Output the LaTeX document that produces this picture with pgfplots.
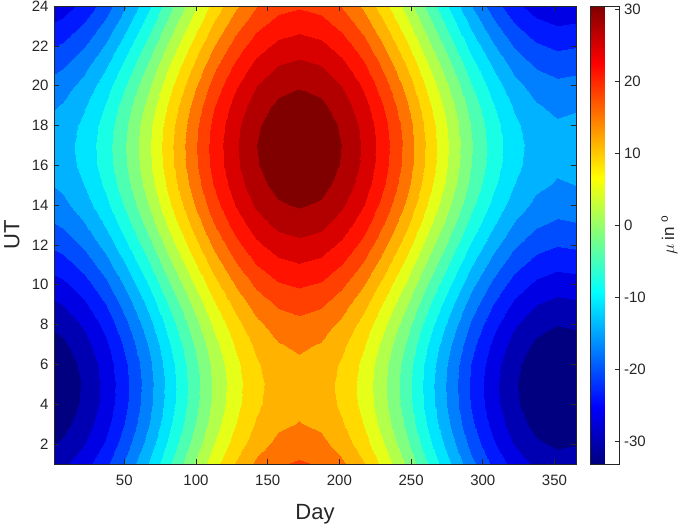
\documentclass[border=0pt]{standalone}
\usepackage{fontspec}
\setmainfont{Liberation Sans}
\usepackage{pgfplots}
\pgfplotsset{compat=1.18}
\pgfkeys{/pgf/number format/assume math mode=true}
\definecolor{axgray}{RGB}{38,38,38}
% 21 filled bands (jet sampled at the contour levels)
\pgfplotsset{colormap={bands}{
  rgb=(0,0,0.5) rgb=(0,0,0.7) rgb=(0,0,0.9) rgb=(0,0.1,1) rgb=(0,0.3,1)
  rgb=(0,0.5,1) rgb=(0,0.7,1) rgb=(0,0.9,1) rgb=(0.1,1,0.9) rgb=(0.3,1,0.7)
  rgb=(0.5,1,0.5) rgb=(0.7,1,0.3) rgb=(0.9,1,0.1) rgb=(1,0.85,0) rgb=(1,0.7,0)
  rgb=(1,0.45,0) rgb=(1,0.25,0) rgb=(1,0.07,0) rgb=(0.85,0,0) rgb=(0.7,0,0)
  rgb=(0.5,0,0)}}
\begin{document}
\begin{tikzpicture}
\useasboundingbox (-54pt,-60pt) rectangle (631pt,464pt);
\begin{axis}[
  scale only axis, width=522pt, height=458pt,
  xmin=1, xmax=365, ymin=1, ymax=24,
  enlargelimits=false,
  xtick={50,100,...,350}, ytick={2,4,...,24},
  tick align=inside, major tick length=5pt,
  xtick pos=both, ytick pos=both,
  xticklabel pos=lower, yticklabel pos=left,
  axis on top,
  axis line style={axgray, line width=0.6pt},
  tick style={axgray, line width=0.6pt},
  tick label style={font=\fontsize{15}{18}\selectfont, text=axgray},
  xticklabel style={yshift=-7pt}, yticklabel style={xshift=-2pt},
  xlabel={Day}, ylabel={UT},
  every axis x label/.style={at={(axis description cs:0.5,-0.122)}, anchor=base,
    font=\fontsize{22}{26}\selectfont, text=axgray},
  every axis y label/.style={at={(axis description cs:-0.0805,0.5)}, rotate=90, anchor=center,
    font=\fontsize{22}{26}\selectfont, text=axgray},
  colormap/jet,
  point meta min=-33.1, point meta max=30.4,
  colorbar,
  colorbar style={
    at={(parent axis.north east)}, anchor=north west, xshift=6pt,
    scale only axis, width=29pt, height=458pt,
    ytick={-30,-20,...,30},
    tick align=inside, major tick length=5pt,
    ytick pos=right, yticklabel pos=right,
    axis line style={axgray, line width=0.6pt},
    tick style={axgray, line width=0.6pt},
    tick label style={font=\fontsize{15}{18}\selectfont, text=axgray},
    yticklabel style={xshift=1pt},
    ylabel={\fontsize{17}{20}\selectfont$\mu$ in \textsuperscript{o}},
    ylabel style={at={(rel axis cs:2.72,0.5)}, anchor=center, text=axgray},
  },
]
\addplot[surf, shader=interp, mesh/cols=26, point meta=explicit,
  colormap name=bands, colormap access=piecewise constant]
table[x=x, y=y, meta=z, row sep=\\] {
x y z\\
1 1 -28.26\\ 7 1 -27.69\\ 22 1 -25.31\\ 37 1 -21.67\\ 52 1 -17.04\\ 67 1 -11.69\\ 82 1 -6.01\\ 97 1 -0.36\\ 112 1 4.88\\ 127 1 9.38\\ 142 1 12.82\\ 157 1 14.98\\ 172 1 15.71\\ 187 1 14.98\\ 202 1 12.82\\ 217 1 9.38\\ 232 1 4.88\\ 247 1 -0.36\\ 262 1 -6.01\\ 277 1 -11.69\\ 292 1 -17.04\\ 307 1 -21.67\\ 322 1 -25.31\\ 337 1 -27.69\\ 352 1 -28.67\\ 365 1 -28.33\\
1 2 -30.16\\ 7 2 -29.59\\ 22 2 -27.21\\ 37 2 -23.57\\ 52 2 -18.94\\ 67 2 -13.59\\ 82 2 -7.91\\ 97 2 -2.26\\ 112 2 2.98\\ 127 2 7.48\\ 142 2 10.92\\ 157 2 13.08\\ 172 2 13.81\\ 187 2 13.08\\ 202 2 10.92\\ 217 2 7.48\\ 232 2 2.98\\ 247 2 -2.26\\ 262 2 -7.91\\ 277 2 -13.59\\ 292 2 -18.94\\ 307 2 -23.57\\ 322 2 -27.21\\ 337 2 -29.59\\ 352 2 -30.57\\ 365 2 -30.23\\
1 3 -31.58\\ 7 3 -31.01\\ 22 3 -28.63\\ 37 3 -24.99\\ 52 3 -20.36\\ 67 3 -15.01\\ 82 3 -9.33\\ 97 3 -3.68\\ 112 3 1.56\\ 127 3 6.06\\ 142 3 9.50\\ 157 3 11.66\\ 172 3 12.39\\ 187 3 11.66\\ 202 3 9.50\\ 217 3 6.06\\ 232 3 1.56\\ 247 3 -3.68\\ 262 3 -9.33\\ 277 3 -15.01\\ 292 3 -20.36\\ 307 3 -24.99\\ 322 3 -28.63\\ 337 3 -31.01\\ 352 3 -31.99\\ 365 3 -31.65\\
1 4 -32.44\\ 7 4 -31.87\\ 22 4 -29.49\\ 37 4 -25.85\\ 52 4 -21.22\\ 67 4 -15.87\\ 82 4 -10.19\\ 97 4 -4.54\\ 112 4 0.70\\ 127 4 5.20\\ 142 4 8.64\\ 157 4 10.80\\ 172 4 11.53\\ 187 4 10.80\\ 202 4 8.64\\ 217 4 5.20\\ 232 4 0.70\\ 247 4 -4.54\\ 262 4 -10.19\\ 277 4 -15.87\\ 292 4 -21.22\\ 307 4 -25.85\\ 322 4 -29.49\\ 337 4 -31.87\\ 352 4 -32.85\\ 365 4 -32.51\\
1 5 -32.66\\ 7 5 -32.09\\ 22 5 -29.71\\ 37 5 -26.07\\ 52 5 -21.44\\ 67 5 -16.09\\ 82 5 -10.41\\ 97 5 -4.76\\ 112 5 0.48\\ 127 5 4.98\\ 142 5 8.42\\ 157 5 10.58\\ 172 5 11.31\\ 187 5 10.58\\ 202 5 8.42\\ 217 5 4.98\\ 232 5 0.48\\ 247 5 -4.76\\ 262 5 -10.41\\ 277 5 -16.09\\ 292 5 -21.44\\ 307 5 -26.07\\ 322 5 -29.71\\ 337 5 -32.09\\ 352 5 -33.07\\ 365 5 -32.73\\
1 6 -32.24\\ 7 6 -31.67\\ 22 6 -29.29\\ 37 6 -25.65\\ 52 6 -21.02\\ 67 6 -15.67\\ 82 6 -9.99\\ 97 6 -4.34\\ 112 6 0.90\\ 127 6 5.40\\ 142 6 8.84\\ 157 6 11.00\\ 172 6 11.73\\ 187 6 11.00\\ 202 6 8.84\\ 217 6 5.40\\ 232 6 0.90\\ 247 6 -4.34\\ 262 6 -9.99\\ 277 6 -15.67\\ 292 6 -21.02\\ 307 6 -25.65\\ 322 6 -29.29\\ 337 6 -31.67\\ 352 6 -32.65\\ 365 6 -32.31\\
1 7 -31.21\\ 7 7 -30.64\\ 22 7 -28.26\\ 37 7 -24.62\\ 52 7 -19.99\\ 67 7 -14.64\\ 82 7 -8.96\\ 97 7 -3.31\\ 112 7 1.93\\ 127 7 6.43\\ 142 7 9.87\\ 157 7 12.03\\ 172 7 12.76\\ 187 7 12.03\\ 202 7 9.87\\ 217 7 6.43\\ 232 7 1.93\\ 247 7 -3.31\\ 262 7 -8.96\\ 277 7 -14.64\\ 292 7 -19.99\\ 307 7 -24.62\\ 322 7 -28.26\\ 337 7 -30.64\\ 352 7 -31.62\\ 365 7 -31.28\\
1 8 -29.63\\ 7 8 -29.06\\ 22 8 -26.68\\ 37 8 -23.04\\ 52 8 -18.41\\ 67 8 -13.06\\ 82 8 -7.38\\ 97 8 -1.73\\ 112 8 3.51\\ 127 8 8.01\\ 142 8 11.45\\ 157 8 13.61\\ 172 8 14.34\\ 187 8 13.61\\ 202 8 11.45\\ 217 8 8.01\\ 232 8 3.51\\ 247 8 -1.73\\ 262 8 -7.38\\ 277 8 -13.06\\ 292 8 -18.41\\ 307 8 -23.04\\ 322 8 -26.68\\ 337 8 -29.06\\ 352 8 -30.04\\ 365 8 -29.70\\
1 9 -27.62\\ 7 9 -27.05\\ 22 9 -24.67\\ 37 9 -21.03\\ 52 9 -16.40\\ 67 9 -11.05\\ 82 9 -5.37\\ 97 9 0.28\\ 112 9 5.52\\ 127 9 10.02\\ 142 9 13.46\\ 157 9 15.62\\ 172 9 16.35\\ 187 9 15.62\\ 202 9 13.46\\ 217 9 10.02\\ 232 9 5.52\\ 247 9 0.28\\ 262 9 -5.37\\ 277 9 -11.05\\ 292 9 -16.40\\ 307 9 -21.03\\ 322 9 -24.67\\ 337 9 -27.05\\ 352 9 -28.03\\ 365 9 -27.69\\
1 10 -25.31\\ 7 10 -24.74\\ 22 10 -22.36\\ 37 10 -18.72\\ 52 10 -14.09\\ 67 10 -8.74\\ 82 10 -3.06\\ 97 10 2.59\\ 112 10 7.83\\ 127 10 12.33\\ 142 10 15.77\\ 157 10 17.93\\ 172 10 18.66\\ 187 10 17.93\\ 202 10 15.77\\ 217 10 12.33\\ 232 10 7.83\\ 247 10 2.59\\ 262 10 -3.06\\ 277 10 -8.74\\ 292 10 -14.09\\ 307 10 -18.72\\ 322 10 -22.36\\ 337 10 -24.74\\ 352 10 -25.72\\ 365 10 -25.38\\
1 11 -22.85\\ 7 11 -22.28\\ 22 11 -19.90\\ 37 11 -16.26\\ 52 11 -11.63\\ 67 11 -6.28\\ 82 11 -0.60\\ 97 11 5.05\\ 112 11 10.29\\ 127 11 14.79\\ 142 11 18.23\\ 157 11 20.39\\ 172 11 21.12\\ 187 11 20.39\\ 202 11 18.23\\ 217 11 14.79\\ 232 11 10.29\\ 247 11 5.05\\ 262 11 -0.60\\ 277 11 -6.28\\ 292 11 -11.63\\ 307 11 -16.26\\ 322 11 -19.90\\ 337 11 -22.28\\ 352 11 -23.26\\ 365 11 -22.92\\
1 12 -20.42\\ 7 12 -19.85\\ 22 12 -17.47\\ 37 12 -13.83\\ 52 12 -9.20\\ 67 12 -3.85\\ 82 12 1.83\\ 97 12 7.48\\ 112 12 12.72\\ 127 12 17.22\\ 142 12 20.66\\ 157 12 22.82\\ 172 12 23.55\\ 187 12 22.82\\ 202 12 20.66\\ 217 12 17.22\\ 232 12 12.72\\ 247 12 7.48\\ 262 12 1.83\\ 277 12 -3.85\\ 292 12 -9.20\\ 307 12 -13.83\\ 322 12 -17.47\\ 337 12 -19.85\\ 352 12 -20.83\\ 365 12 -20.49\\
1 13 -18.18\\ 7 13 -17.61\\ 22 13 -15.23\\ 37 13 -11.59\\ 52 13 -6.96\\ 67 13 -1.61\\ 82 13 4.07\\ 97 13 9.72\\ 112 13 14.96\\ 127 13 19.46\\ 142 13 22.90\\ 157 13 25.06\\ 172 13 25.79\\ 187 13 25.06\\ 202 13 22.90\\ 217 13 19.46\\ 232 13 14.96\\ 247 13 9.72\\ 262 13 4.07\\ 277 13 -1.61\\ 292 13 -6.96\\ 307 13 -11.59\\ 322 13 -15.23\\ 337 13 -17.61\\ 352 13 -18.59\\ 365 13 -18.25\\
1 14 -16.28\\ 7 14 -15.71\\ 22 14 -13.33\\ 37 14 -9.69\\ 52 14 -5.06\\ 67 14 0.29\\ 82 14 5.97\\ 97 14 11.62\\ 112 14 16.86\\ 127 14 21.36\\ 142 14 24.80\\ 157 14 26.96\\ 172 14 27.69\\ 187 14 26.96\\ 202 14 24.80\\ 217 14 21.36\\ 232 14 16.86\\ 247 14 11.62\\ 262 14 5.97\\ 277 14 0.29\\ 292 14 -5.06\\ 307 14 -9.69\\ 322 14 -13.33\\ 337 14 -15.71\\ 352 14 -16.69\\ 365 14 -16.35\\
1 15 -14.86\\ 7 15 -14.29\\ 22 15 -11.91\\ 37 15 -8.27\\ 52 15 -3.64\\ 67 15 1.71\\ 82 15 7.39\\ 97 15 13.04\\ 112 15 18.28\\ 127 15 22.78\\ 142 15 26.22\\ 157 15 28.38\\ 172 15 29.11\\ 187 15 28.38\\ 202 15 26.22\\ 217 15 22.78\\ 232 15 18.28\\ 247 15 13.04\\ 262 15 7.39\\ 277 15 1.71\\ 292 15 -3.64\\ 307 15 -8.27\\ 322 15 -11.91\\ 337 15 -14.29\\ 352 15 -15.27\\ 365 15 -14.93\\
1 16 -14.00\\ 7 16 -13.43\\ 22 16 -11.05\\ 37 16 -7.41\\ 52 16 -2.78\\ 67 16 2.57\\ 82 16 8.25\\ 97 16 13.90\\ 112 16 19.14\\ 127 16 23.64\\ 142 16 27.08\\ 157 16 29.24\\ 172 16 29.97\\ 187 16 29.24\\ 202 16 27.08\\ 217 16 23.64\\ 232 16 19.14\\ 247 16 13.90\\ 262 16 8.25\\ 277 16 2.57\\ 292 16 -2.78\\ 307 16 -7.41\\ 322 16 -11.05\\ 337 16 -13.43\\ 352 16 -14.41\\ 365 16 -14.07\\
1 17 -13.78\\ 7 17 -13.21\\ 22 17 -10.83\\ 37 17 -7.19\\ 52 17 -2.56\\ 67 17 2.79\\ 82 17 8.47\\ 97 17 14.12\\ 112 17 19.36\\ 127 17 23.86\\ 142 17 27.30\\ 157 17 29.46\\ 172 17 30.19\\ 187 17 29.46\\ 202 17 27.30\\ 217 17 23.86\\ 232 17 19.36\\ 247 17 14.12\\ 262 17 8.47\\ 277 17 2.79\\ 292 17 -2.56\\ 307 17 -7.19\\ 322 17 -10.83\\ 337 17 -13.21\\ 352 17 -14.19\\ 365 17 -13.85\\
1 18 -14.20\\ 7 18 -13.63\\ 22 18 -11.25\\ 37 18 -7.61\\ 52 18 -2.98\\ 67 18 2.37\\ 82 18 8.05\\ 97 18 13.70\\ 112 18 18.94\\ 127 18 23.44\\ 142 18 26.88\\ 157 18 29.04\\ 172 18 29.77\\ 187 18 29.04\\ 202 18 26.88\\ 217 18 23.44\\ 232 18 18.94\\ 247 18 13.70\\ 262 18 8.05\\ 277 18 2.37\\ 292 18 -2.98\\ 307 18 -7.61\\ 322 18 -11.25\\ 337 18 -13.63\\ 352 18 -14.61\\ 365 18 -14.27\\
1 19 -15.23\\ 7 19 -14.66\\ 22 19 -12.28\\ 37 19 -8.64\\ 52 19 -4.01\\ 67 19 1.34\\ 82 19 7.02\\ 97 19 12.67\\ 112 19 17.91\\ 127 19 22.41\\ 142 19 25.85\\ 157 19 28.01\\ 172 19 28.74\\ 187 19 28.01\\ 202 19 25.85\\ 217 19 22.41\\ 232 19 17.91\\ 247 19 12.67\\ 262 19 7.02\\ 277 19 1.34\\ 292 19 -4.01\\ 307 19 -8.64\\ 322 19 -12.28\\ 337 19 -14.66\\ 352 19 -15.64\\ 365 19 -15.30\\
1 20 -16.81\\ 7 20 -16.24\\ 22 20 -13.86\\ 37 20 -10.22\\ 52 20 -5.59\\ 67 20 -0.24\\ 82 20 5.44\\ 97 20 11.09\\ 112 20 16.33\\ 127 20 20.83\\ 142 20 24.27\\ 157 20 26.43\\ 172 20 27.16\\ 187 20 26.43\\ 202 20 24.27\\ 217 20 20.83\\ 232 20 16.33\\ 247 20 11.09\\ 262 20 5.44\\ 277 20 -0.24\\ 292 20 -5.59\\ 307 20 -10.22\\ 322 20 -13.86\\ 337 20 -16.24\\ 352 20 -17.22\\ 365 20 -16.88\\
1 21 -18.82\\ 7 21 -18.25\\ 22 21 -15.87\\ 37 21 -12.23\\ 52 21 -7.60\\ 67 21 -2.25\\ 82 21 3.43\\ 97 21 9.08\\ 112 21 14.32\\ 127 21 18.82\\ 142 21 22.26\\ 157 21 24.42\\ 172 21 25.15\\ 187 21 24.42\\ 202 21 22.26\\ 217 21 18.82\\ 232 21 14.32\\ 247 21 9.08\\ 262 21 3.43\\ 277 21 -2.25\\ 292 21 -7.60\\ 307 21 -12.23\\ 322 21 -15.87\\ 337 21 -18.25\\ 352 21 -19.23\\ 365 21 -18.89\\
1 22 -21.13\\ 7 22 -20.56\\ 22 22 -18.18\\ 37 22 -14.54\\ 52 22 -9.91\\ 67 22 -4.56\\ 82 22 1.12\\ 97 22 6.77\\ 112 22 12.01\\ 127 22 16.51\\ 142 22 19.95\\ 157 22 22.11\\ 172 22 22.84\\ 187 22 22.11\\ 202 22 19.95\\ 217 22 16.51\\ 232 22 12.01\\ 247 22 6.77\\ 262 22 1.12\\ 277 22 -4.56\\ 292 22 -9.91\\ 307 22 -14.54\\ 322 22 -18.18\\ 337 22 -20.56\\ 352 22 -21.54\\ 365 22 -21.20\\
1 23 -23.59\\ 7 23 -23.02\\ 22 23 -20.64\\ 37 23 -17.00\\ 52 23 -12.37\\ 67 23 -7.02\\ 82 23 -1.34\\ 97 23 4.31\\ 112 23 9.55\\ 127 23 14.05\\ 142 23 17.49\\ 157 23 19.65\\ 172 23 20.38\\ 187 23 19.65\\ 202 23 17.49\\ 217 23 14.05\\ 232 23 9.55\\ 247 23 4.31\\ 262 23 -1.34\\ 277 23 -7.02\\ 292 23 -12.37\\ 307 23 -17.00\\ 322 23 -20.64\\ 337 23 -23.02\\ 352 23 -24.00\\ 365 23 -23.66\\
1 24 -26.02\\ 7 24 -25.45\\ 22 24 -23.07\\ 37 24 -19.43\\ 52 24 -14.80\\ 67 24 -9.45\\ 82 24 -3.77\\ 97 24 1.88\\ 112 24 7.12\\ 127 24 11.62\\ 142 24 15.06\\ 157 24 17.22\\ 172 24 17.95\\ 187 24 17.22\\ 202 24 15.06\\ 217 24 11.62\\ 232 24 7.12\\ 247 24 1.88\\ 262 24 -3.77\\ 277 24 -9.45\\ 292 24 -14.80\\ 307 24 -19.43\\ 322 24 -23.07\\ 337 24 -25.45\\ 352 24 -26.43\\ 365 24 -26.09\\
};
\end{axis}
\end{tikzpicture}
\end{document}
